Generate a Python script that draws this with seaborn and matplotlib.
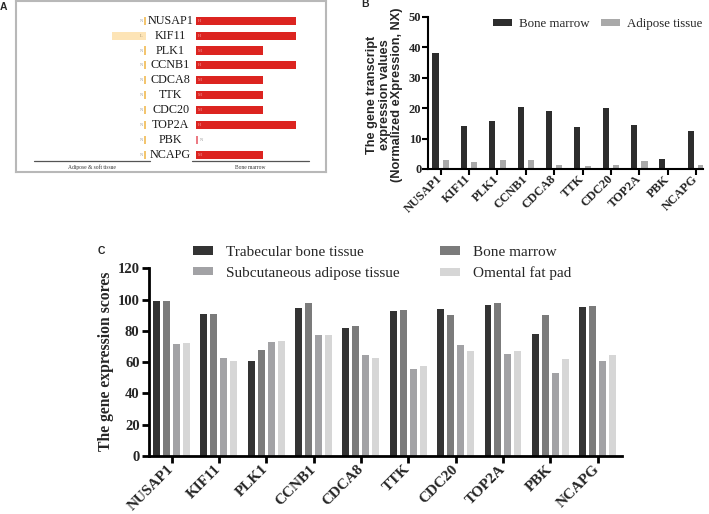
import numpy as np
import pandas as pd
import matplotlib
matplotlib.use("Agg")
import matplotlib.pyplot as plt
import seaborn as sns
from matplotlib.patches import Patch

# ---------------- data ----------------
genes = ["NUSAP1", "KIF11", "PLK1", "CCNB1", "CDCA8", "TTK", "CDC20", "TOP2A", "PBK", "NCAPG"]

# Panel A: protein expression levels (N = not detected, L = low, M = medium, H = high)
adipose_levels = ["N", "L", "N", "N", "N", "N", "N", "N", "N", "N"]
bone_levels = ["H", "H", "M", "H", "M", "M", "M", "H", "N", "M"]
level_values = {"N": 0.06, "L": 1, "M": 2, "H": 3}

# Panel B: NX values
nx_bone_marrow = [38.2, 14.2, 15.8, 20.5, 19.0, 13.8, 20.1, 14.6, 3.2, 12.4]
nx_adipose = [3.1, 2.2, 2.8, 3.1, 1.2, 1.0, 1.2, 2.6, 0.4, 1.4]
b_series = ["Bone marrow", "Adipose tissue"]

# Panel C: expression scores
score_trabecular = [98.8, 90.8, 60.8, 94.8, 82.0, 92.9, 94.0, 96.5, 77.9, 95.1]
score_bone_marrow = [99.0, 91.0, 67.9, 97.6, 83.1, 93.1, 90.2, 98.0, 90.0, 96.1]
score_subcutaneous = [71.7, 62.8, 73.1, 77.4, 64.8, 55.4, 71.0, 65.4, 53.3, 60.8]
score_omental = [72.4, 61.0, 73.3, 77.4, 62.8, 57.3, 67.4, 66.9, 61.8, 64.6]
c_series = ["Trabecular bone tissue", "Bone marrow",
            "Subcutaneous adipose tissue", "Omental fat pad"]

# ---------------- style ----------------
sns.set_style("ticks")
SERIF = ["Liberation Serif", "DejaVu Serif"]
SANS = ["Liberation Sans", "DejaVu Sans"]
plt.rcParams["font.family"] = SERIF

W, H = 709, 514
fig = plt.figure(figsize=(W / 100, H / 100), dpi=100)


def px_axes(x0, y0, x1, y1):
    return fig.add_axes([x0 / W, 1 - y1 / H, (x1 - x0) / W, (y1 - y0) / H])


# ---------------- Panel A ----------------
axA = px_axes(15.7, 1, 326, 171.7)
unit, row = 33.4, 14.9
axA.set_xlim(-180.3 / unit, 130 / unit)
axA.set_ylim((171.7 - 20.7) / row, (1 - 20.7) / row)
axA.set_xticks([])
axA.set_yticks([])
for s in axA.spines.values():
    s.set_color("#b8b8b8")
    s.set_linewidth(1.5)
    s.set_visible(True)

ypos = np.arange(len(genes))
bone_len = [level_values[l] for l in bone_levels]
adip_len = [level_values[l] for l in adipose_levels]
bone_colors = ["#ec7b84" if l == "N" else "#dc2420" for l in bone_levels]
adip_colors = ["#f3c56e" if l == "N" else "#fde4b6" for l in adipose_levels]
adip_right = -1.5
axA.barh(ypos, bone_len, left=0, height=0.55, color=bone_colors, linewidth=0)
axA.barh(ypos, [-v for v in adip_len], left=adip_right, height=0.55,
         color=adip_colors, linewidth=0)
for i, g in enumerate(genes):
    axA.text(-0.76, i, g, ha="center", va="center", fontsize=8.7,
             color="#1a1a1a", family=SERIF)
    bl = bone_levels[i]
    if bl == "N":
        axA.text(0.12, i, bl, ha="left", va="center", fontsize=3.2, color="#999999")
    else:
        axA.text(0.05, i, bl, ha="left", va="center", fontsize=3.2, color="#f0a0a0")
    al = adipose_levels[i]
    axA.text(adip_right - 0.13, i, al, ha="center", va="center", fontsize=3.2,
             color="#a09070" if al != "N" else "#999999")

axA.plot([-4.86, -1.38], [9.44, 9.44], color="#555555", lw=0.9)
axA.plot([-0.12, 3.38], [9.44, 9.44], color="#555555", lw=0.9)
axA.text(-3.12, 9.82, "Adipose & soft tissue", ha="center", va="center",
         fontsize=4, color="#333333")
axA.text(1.62, 9.82, "Bone marrow", ha="center", va="center",
         fontsize=4, color="#333333")

fig.text(3 / W, 1 - 6.5 / H, "A", ha="center", va="center", fontsize=7.5,
         fontweight="bold", family=SANS)

# ---------------- Panel B ----------------
axB = px_axes(428.3, 16.7, 703, 169)
dfB = pd.DataFrame({
    "gene": genes * 2,
    "tissue": [b_series[0]] * len(genes) + [b_series[1]] * len(genes),
    "value": nx_bone_marrow + nx_adipose,
})
b_colors = ["#2d2d2d", "#a9a9a9"]
sns.barplot(data=dfB, x="gene", y="value", hue="tissue", hue_order=b_series,
            palette=b_colors, width=0.74, gap=0.42, errorbar=None,
            linewidth=0, legend=False, ax=axB)
axB.set_xlim(-0.44, 9.25)
axB.set_ylim(0, 50)
axB.set_yticks([0, 10, 20, 30, 40, 50])
axB.set_xlabel("")
axB.set_ylabel("")
sns.despine(ax=axB)
for s in ["left", "bottom"]:
    axB.spines[s].set_linewidth(1.5)
    axB.spines[s].set_color("black")
axB.tick_params(axis="both", direction="out", length=4, width=1.5, color="black")
axB.tick_params(axis="y", pad=1)
axB.tick_params(axis="x", pad=2)
for lab in axB.get_yticklabels():
    lab.set_fontweight("bold")
    lab.set_fontsize(9)
for lab in axB.get_xticklabels():
    lab.set_fontweight("bold")
    lab.set_fontsize(9)
    lab.set_rotation(45)
    lab.set_ha("right")
    lab.set_va("center")
    lab.set_rotation_mode("anchor")

fig.text(384.5 / W, 1 - 95 / H,
         "The gene transcript\nexpression values\n(Normalized eXpression, NX)",
         rotation=90, ha="center", va="center", multialignment="center",
         fontsize=9.2, fontweight="bold", family=SANS, linespacing=1.05)
fig.legend(handles=[Patch(facecolor=c, linewidth=0) for c in b_colors],
           labels=b_series, loc="upper left",
           bbox_to_anchor=(493.3 / W, 1 - 18 / H), ncol=2, frameon=False,
           fontsize=9.3, handlelength=1.44, handleheight=0.47,
           handletextpad=0.52, columnspacing=0.94, borderpad=0, borderaxespad=0)
fig.text(365 / W, 1 - 4 / H, "B", ha="center", va="center", fontsize=7.5,
         fontweight="bold", family=SANS)

# ---------------- Panel C ----------------
axC = px_axes(149.3, 268.3, 621.7, 456)
dfC = pd.DataFrame({
    "gene": genes * 4,
    "tissue": sum([[s] * len(genes) for s in c_series], []),
    "value": score_trabecular + score_bone_marrow + score_subcutaneous + score_omental,
})
c_colors = ["#333333", "#7b7b7b", "#a2a2a5", "#d6d6d6"]
sns.barplot(data=dfC, x="gene", y="value", hue="tissue", hue_order=c_series,
            palette=c_colors, width=0.84, gap=0.3, errorbar=None,
            linewidth=0, legend=False, ax=axC)
axC.set_xlim(-0.47, 9.51)
axC.set_ylim(0, 120)
axC.set_yticks([0, 20, 40, 60, 80, 100, 120])
axC.set_xlabel("")
axC.set_ylabel("")
sns.despine(ax=axC)
for s in ["left", "bottom"]:
    axC.spines[s].set_linewidth(2)
    axC.spines[s].set_color("black")
axC.tick_params(axis="both", direction="out", length=5, width=2, color="black")
axC.tick_params(axis="y", pad=2)
axC.tick_params(axis="x", pad=3)
for lab in axC.get_yticklabels():
    lab.set_fontweight("bold")
    lab.set_fontsize(10.5)
for lab in axC.get_xticklabels():
    lab.set_fontweight("bold")
    lab.set_fontsize(11)
    lab.set_rotation(45)
    lab.set_ha("right")
    lab.set_va("center")
    lab.set_rotation_mode("anchor")

fig.text(106 / W, 1 - 361.5 / H, "The gene expression scores", rotation=90,
         ha="center", va="center", fontsize=11.3, fontweight="bold")

order = [0, 2, 1, 3]
fig.legend(handles=[Patch(facecolor=c_colors[k], linewidth=0) for k in order],
           labels=[c_series[k] for k in order], loc="upper left",
           bbox_to_anchor=(193 / W, 1 - 246 / H), ncol=2, frameon=False,
           fontsize=11, handlelength=1.3, handleheight=0.44,
           handletextpad=0.83, columnspacing=2.7, labelspacing=0.5,
           borderpad=0, borderaxespad=0)
fig.text(101.7 / W, 1 - 250.7 / H, "C", ha="center", va="center", fontsize=7.5,
         fontweight="bold", family=SANS)

fig.savefig("out.png", dpi=100)
